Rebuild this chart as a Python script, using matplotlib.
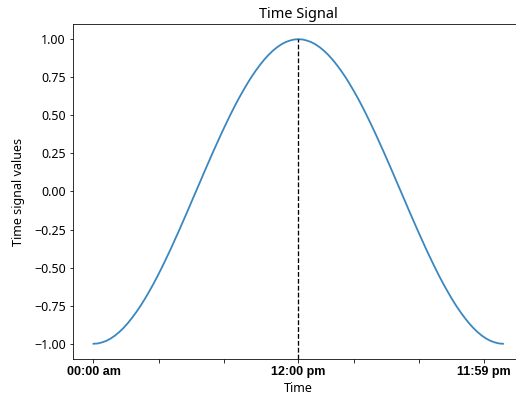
import matplotlib
matplotlib.use("Agg")
from matplotlib import pyplot

pyplot.rcParams["font.family"] = ["Noto Sans", "DejaVu Sans"]

# minutes since midnight, sampled every 15 minutes (last sample 23:59)
minutes = list(range(0, 1440, 15)) + [1439]
signal = [
    -1.000, -0.998, -0.991, -0.981, -0.966, -0.947, -0.924, -0.897, -0.866, -0.831,
    -0.793, -0.752, -0.707, -0.659, -0.609, -0.556, -0.500, -0.442, -0.383, -0.321,
    -0.259, -0.195, -0.131, -0.065, 0.000, 0.065, 0.131, 0.195, 0.259, 0.321,
    0.383, 0.442, 0.500, 0.556, 0.609, 0.659, 0.707, 0.752, 0.793, 0.831,
    0.866, 0.897, 0.924, 0.947, 0.966, 0.981, 0.991, 0.998, 1.000, 0.998,
    0.991, 0.981, 0.966, 0.947, 0.924, 0.897, 0.866, 0.831, 0.793, 0.752,
    0.707, 0.659, 0.609, 0.556, 0.500, 0.442, 0.383, 0.321, 0.259, 0.195,
    0.131, 0.065, 0.000, -0.065, -0.131, -0.195, -0.259, -0.321, -0.383, -0.442,
    -0.500, -0.556, -0.609, -0.659, -0.707, -0.752, -0.793, -0.831, -0.866, -0.897,
    -0.924, -0.947, -0.966, -0.981, -0.991, -0.998, -1.000,
]
noon = 720
peak = 1.00

tick_positions = [0, 229, 458, 720, 915, 1144, 1373]
tick_labels = ["00:00 am", "", "", "12:00 pm", "", "", "11:59 pm"]

fig = pyplot.figure(figsize=(516 / 72, 403 / 72), dpi=72)
# right edge of the axes sits just past the canvas, as in the original crop
ax = fig.add_axes([0.1415, 0.1092, 0.873, 0.8313])

ax.plot(minutes, signal, color="#3a87c0", linewidth=1.8)
ymin, ymax = ax.get_ylim()
ax.vlines(noon, ymin, peak, colors="black", linestyles="--", linewidth=1.3)
ax.set_ylim(ymin, ymax)

ax.set_xticks(tick_positions)
ax.set_xticklabels(tick_labels, fontfamily="Liberation Sans",
                   fontweight="bold", fontsize=12.5)
ax.tick_params(axis="y", labelsize=12.5)
ax.set_title("Time Signal", fontsize=14.5)
ax.set_xlabel("Time", fontsize=12.5)
ax.set_ylabel("Time signal values", fontsize=12.5, labelpad=9)

pyplot.savefig("out.png", dpi=72)
